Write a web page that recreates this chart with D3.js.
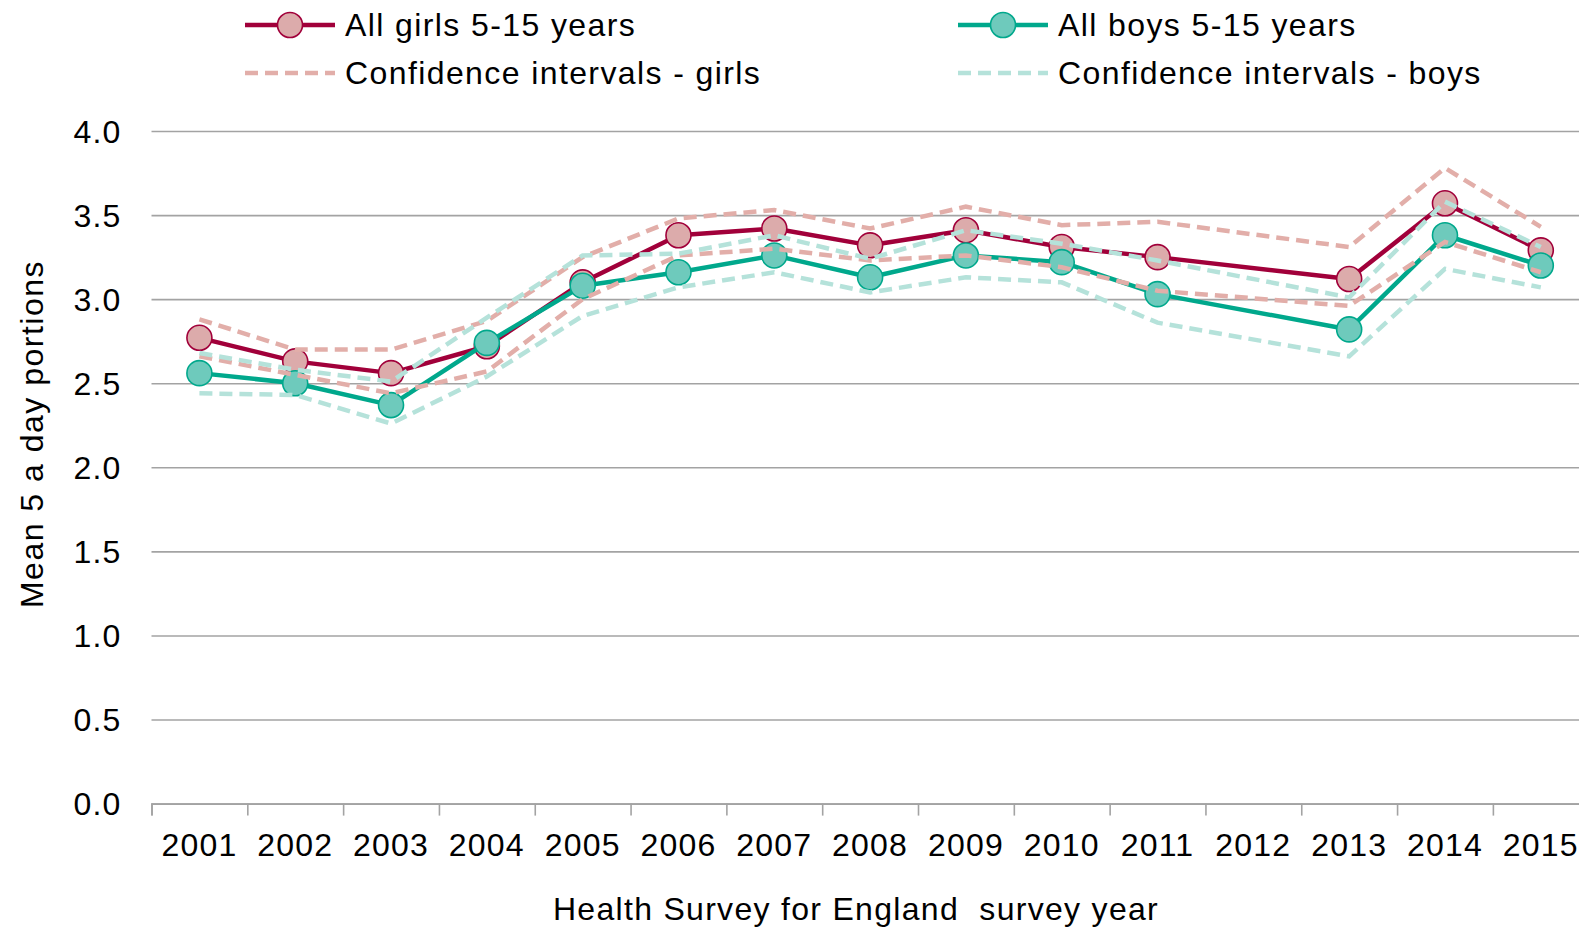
<!DOCTYPE html>
<html>
<head>
<meta charset="utf-8">
<script src="https://cdn.jsdelivr.net/npm/d3@7"></script>
<style>
  body { margin: 0; background: #fff; }
  text { font-family: "Liberation Sans", Arial, sans-serif; fill: #000; }
</style>
</head>
<body>
<script>
// survey years; 2012 had no fruit & veg module, so no value
var years = ["2001","2002","2003","2004","2005","2006","2007","2008","2009","2010","2011","2012","2013","2014","2015"];
var girls      = [2.77, 2.63, 2.56, 2.72, 3.10, 3.38, 3.42, 3.32, 3.41, 3.31, 3.25, null, 3.12, 3.57, 3.29];
var boys       = [2.56, 2.50, 2.37, 2.74, 3.08, 3.16, 3.26, 3.13, 3.26, 3.22, 3.03, null, 2.82, 3.38, 3.20];
var girlsUpper = [2.88, 2.70, 2.70, 2.87, 3.25, 3.48, 3.53, 3.42, 3.55, 3.44, 3.46, null, 3.31, 3.78, 3.43];
var girlsLower = [2.66, 2.55, 2.44, 2.57, 3.00, 3.26, 3.30, 3.23, 3.26, 3.19, 3.05, null, 2.96, 3.34, 3.16];
var boysUpper  = [2.68, 2.58, 2.51, 2.89, 3.26, 3.27, 3.38, 3.24, 3.41, 3.33, 3.23, null, 3.01, 3.58, 3.31];
var boysLower  = [2.44, 2.43, 2.26, 2.54, 2.90, 3.07, 3.16, 3.04, 3.13, 3.10, 2.86, null, 2.66, 3.18, 3.07];
var yTicks = [0, 0.5, 1, 1.5, 2, 2.5, 3, 3.5, 4];

var W = 1579, H = 927,
    pLeft = 151.5, pRight = 1588.7, pTop = 131, pBottom = 803.6;

var girlCol = "#a1003a", girlFill = "#dcabab", girlCI = "#e2aea9",
    boyCol = "#00a88c", boyFill = "#6ecabc", boyCI = "#b5e2da";

var svg = d3.select("body").append("svg")
    .attr("width", W)
    .attr("height", H);

var x = d3.scaleBand().domain(years).range([pLeft, pRight]).padding(0);
var xEdge = d3.scaleLinear().domain([0, years.length]).range([pLeft, pRight]);
var y = d3.scaleLinear().domain([0, 4]).range([pBottom, pTop]);

// gridlines
svg.append("g")
    .attr("transform", "translate(" + pLeft + ",0)")
    .call(d3.axisLeft(y).tickValues(yTicks).tickSize(-(pRight - pLeft)).tickFormat(""))
    .call(function(g) {
      g.select(".domain").remove();
      g.selectAll("line").attr("stroke", "#a3a3a3").attr("stroke-width", 1.6);
    });

// y labels
svg.append("g")
    .attr("transform", "translate(" + pLeft + ",0)")
    .call(d3.axisLeft(y).tickValues(yTicks).tickSize(0).tickPadding(30).tickFormat(d3.format(".1f")))
    .call(function(g) {
      g.select(".domain").remove();
      g.selectAll("text")
        .attr("font-size", 32).attr("letter-spacing", 1.2)
        .attr("font-family", "Liberation Sans, Arial, sans-serif")
        .attr("fill", "#000").attr("dy", "0.35em");
    });

// x axis: boundary ticks + labels
svg.append("g")
    .attr("transform", "translate(0," + pBottom + ")")
    .call(d3.axisBottom(xEdge).tickValues(d3.range(0, years.length + 1)).tickSize(12).tickFormat(""))
    .call(function(g) {
      g.select(".domain").attr("stroke", "#a3a3a3").attr("stroke-width", 1.6);
      g.selectAll("line").attr("stroke", "#a3a3a3").attr("stroke-width", 1.6);
    });

svg.append("g")
    .attr("transform", "translate(0," + pBottom + ")")
    .call(d3.axisBottom(x).tickSize(0).tickPadding(0))
    .call(function(g) {
      g.select(".domain").remove();
      g.selectAll("text")
        .attr("y", 41).attr("dy", "0.35em")
        .attr("font-size", 32).attr("letter-spacing", 1.2)
        .attr("font-family", "Liberation Sans, Arial, sans-serif")
        .attr("fill", "#000");
    });

// axis titles
svg.append("text")
    .attr("x", 856).attr("y", 909).attr("dy", "0.35em")
    .attr("text-anchor", "middle")
    .attr("font-size", 32).attr("letter-spacing", 1.3)
    .style("white-space", "pre")
    .text("Health Survey for England  survey year");

svg.append("text")
    .attr("transform", "translate(32,434) rotate(-90)")
    .attr("dy", "0.35em")
    .attr("text-anchor", "middle")
    .attr("font-size", 32).attr("letter-spacing", 1.5)
    .text("Mean 5 a day portions");

function pts(arr) {
  return years.map(function(yr, i) { return {year: yr, v: arr[i]}; })
              .filter(function(d) { return d.v != null; });
}

var line = d3.line()
    .x(function(d) { return x(d.year) + x.bandwidth() / 2; })
    .y(function(d) { return y(d.v); });

function drawSeries(arr, col, fill) {
  var data = pts(arr);
  svg.append("path").datum(data)
      .attr("d", line)
      .attr("fill", "none").attr("stroke", col)
      .attr("stroke-width", 4.5).attr("stroke-linejoin", "round");
  svg.append("g").selectAll("circle")
    .data(data)
    .enter().append("circle")
      .attr("cx", function(d) { return x(d.year) + x.bandwidth() / 2; })
      .attr("cy", function(d) { return y(d.v); })
      .attr("r", 12.5)
      .attr("fill", fill).attr("stroke", col).attr("stroke-width", 1.6);
}

function drawCI(arr, col) {
  svg.append("path").datum(pts(arr))
      .attr("d", line)
      .attr("fill", "none").attr("stroke", col)
      .attr("stroke-width", 4.5)
      .attr("stroke-dasharray", "13,7");
}

drawSeries(girls, girlCol, girlFill);
drawSeries(boys, boyCol, boyFill);
drawCI(girlsUpper, girlCI);
drawCI(girlsLower, girlCI);
drawCI(boysUpper, boyCI);
drawCI(boysLower, boyCI);

// legend
var legend = [
  {label: "All girls 5-15 years", col: girlCol, fill: girlFill, dash: false, x: 245, y: 25},
  {label: "All boys 5-15 years", col: boyCol, fill: boyFill, dash: false, x: 958, y: 25},
  {label: "Confidence intervals - girls", col: girlCI, dash: true, x: 245, y: 73},
  {label: "Confidence intervals - boys", col: boyCI, dash: true, x: 958, y: 73}
];

var lg = svg.append("g").selectAll("g")
  .data(legend)
  .enter().append("g")
    .attr("transform", function(d) { return "translate(" + d.x + "," + d.y + ")"; });

lg.append("line")
    .attr("x1", 0).attr("x2", 90)
    .attr("stroke", function(d) { return d.col; })
    .attr("stroke-width", 4.5)
    .attr("stroke-dasharray", function(d) { return d.dash ? "13,7" : null; });

lg.filter(function(d) { return !d.dash; }).append("circle")
    .attr("cx", 45).attr("r", 12.5)
    .attr("fill", function(d) { return d.fill; })
    .attr("stroke", function(d) { return d.col; })
    .attr("stroke-width", 1.6);

lg.append("text")
    .attr("x", 100).attr("dy", "0.35em")
    .attr("font-size", 32).attr("letter-spacing", 1.4)
    .text(function(d) { return d.label; });
</script>
</body>
</html>
